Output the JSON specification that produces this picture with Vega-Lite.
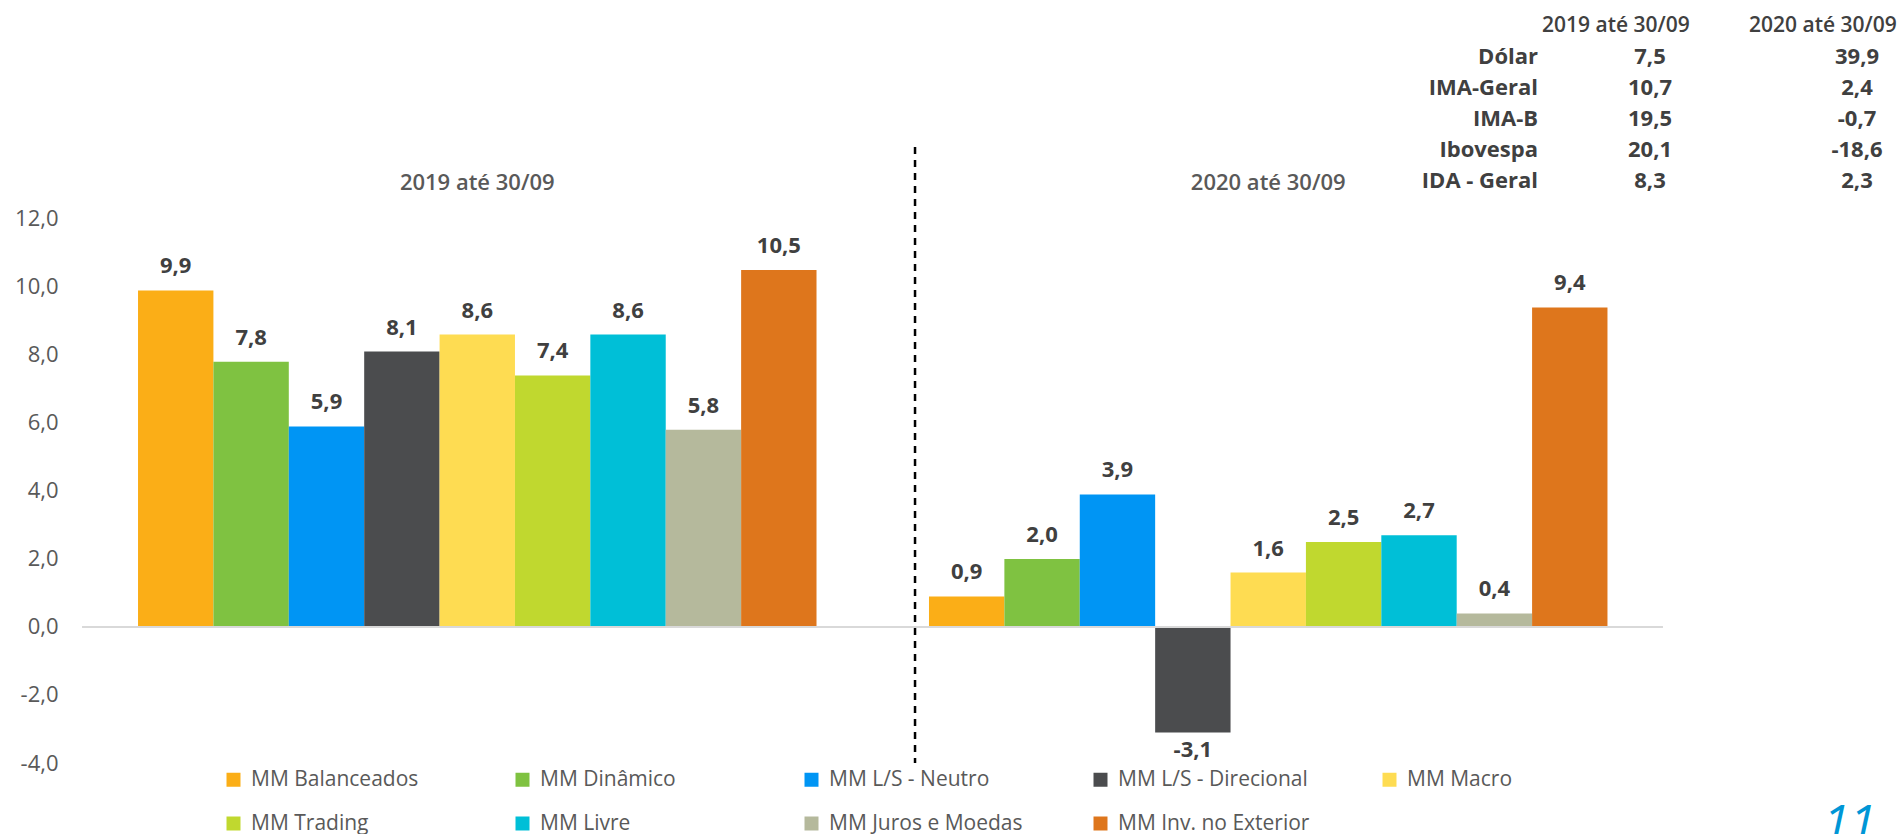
{
  "$schema": "https://vega.github.io/schema/vega-lite/v6.json",
  "width": 1817,
  "height": 763,
  "autosize": {"type": "none"},
  "padding": {"left": 82, "top": 0, "right": 0, "bottom": 71},
  "background": "white",
  "config": {
    "locale": {"number": {"decimal": ",", "thousands": ".", "grouping": [3], "currency": ["R$", ""], "minus": "-"}},
    "view": {"stroke": null},
    "font": "Open Sans",
    "text": {"font": "Open Sans"}
  },
  "datasets": {
    "fundos": [
      {"periodo": "2019 até 30/09", "serie": "MM Balanceados", "valor": 9.9},
      {"periodo": "2019 até 30/09", "serie": "MM Dinâmico", "valor": 7.8},
      {"periodo": "2019 até 30/09", "serie": "MM L/S - Neutro", "valor": 5.9},
      {"periodo": "2019 até 30/09", "serie": "MM L/S - Direcional", "valor": 8.1},
      {"periodo": "2019 até 30/09", "serie": "MM Macro", "valor": 8.6},
      {"periodo": "2019 até 30/09", "serie": "MM Trading", "valor": 7.4},
      {"periodo": "2019 até 30/09", "serie": "MM Livre", "valor": 8.6},
      {"periodo": "2019 até 30/09", "serie": "MM Juros e Moedas", "valor": 5.8},
      {"periodo": "2019 até 30/09", "serie": "MM Inv. no Exterior", "valor": 10.5},
      {"periodo": "2020 até 30/09", "serie": "MM Balanceados", "valor": 0.9},
      {"periodo": "2020 até 30/09", "serie": "MM Dinâmico", "valor": 2.0},
      {"periodo": "2020 até 30/09", "serie": "MM L/S - Neutro", "valor": 3.9},
      {"periodo": "2020 até 30/09", "serie": "MM L/S - Direcional", "valor": -3.1},
      {"periodo": "2020 até 30/09", "serie": "MM Macro", "valor": 1.6},
      {"periodo": "2020 até 30/09", "serie": "MM Trading", "valor": 2.5},
      {"periodo": "2020 até 30/09", "serie": "MM Livre", "valor": 2.7},
      {"periodo": "2020 até 30/09", "serie": "MM Juros e Moedas", "valor": 0.4},
      {"periodo": "2020 até 30/09", "serie": "MM Inv. no Exterior", "valor": 9.4}
    ],
    "grupos": [
      {"periodo": "2019 até 30/09"},
      {"periodo": "2020 até 30/09"}
    ],
    "indicadores": [
      {"indicador": "Dólar", "periodo": "2019 até 30/09", "valor": 7.5},
      {"indicador": "Dólar", "periodo": "2020 até 30/09", "valor": 39.9},
      {"indicador": "IMA-Geral", "periodo": "2019 até 30/09", "valor": 10.7},
      {"indicador": "IMA-Geral", "periodo": "2020 até 30/09", "valor": 2.4},
      {"indicador": "IMA-B", "periodo": "2019 até 30/09", "valor": 19.5},
      {"indicador": "IMA-B", "periodo": "2020 até 30/09", "valor": -0.7},
      {"indicador": "Ibovespa", "periodo": "2019 até 30/09", "valor": 20.1},
      {"indicador": "Ibovespa", "periodo": "2020 até 30/09", "valor": -18.6},
      {"indicador": "IDA - Geral", "periodo": "2019 até 30/09", "valor": 8.3},
      {"indicador": "IDA - Geral", "periodo": "2020 até 30/09", "valor": 2.3}
    ]
  },
  "layer": [
    {
      "layer": [
        {
          "data": {"name": "fundos"},
          "mark": {"type": "bar"},
          "encoding": {
            "x": {
              "field": "periodo", "type": "nominal",
              "scale": {"domain": ["2019 até 30/09", "2020 até 30/09"], "paddingInner": 0.1422, "paddingOuter": 0.2197, "align": 0.1612},
              "axis": null
            },
            "xOffset": {
              "field": "serie", "type": "nominal",
              "scale": {"domain": ["MM Balanceados", "MM Dinâmico", "MM L/S - Neutro", "MM L/S - Direcional", "MM Macro", "MM Trading", "MM Livre", "MM Juros e Moedas", "MM Inv. no Exterior"], "paddingInner": 0, "paddingOuter": 0}
            },
            "y": {
              "field": "valor", "type": "quantitative",
              "scale": {"domain": [-4, 18.44], "nice": false, "zero": false},
              "axis": {"values": [-4, -2, 0, 2, 4, 6, 8, 10, 12], "format": ".1f", "labelFontSize": 22, "labelColor": "#595959", "labelFont": "Open Sans", "domain": false, "ticks": false, "grid": false, "labelPadding": 24, "title": null}
            },
            "color": {
              "field": "serie", "type": "nominal",
              "scale": {
                "domain": ["MM Balanceados", "MM Dinâmico", "MM L/S - Neutro", "MM L/S - Direcional", "MM Macro", "MM Trading", "MM Livre", "MM Juros e Moedas", "MM Inv. no Exterior"],
                "range": ["#FBAE17", "#7FC241", "#0095F4", "#4B4C4E", "#FEDC52", "#C0D82F", "#00BFD7", "#B5B99C", "#DE761C"]
              },
              "legend": {"orient": "none", "legendX": 141, "legendY": 769, "direction": "horizontal", "columns": 5, "title": null, "symbolType": "square", "symbolSize": 196, "symbolStrokeWidth": 0, "symbolOpacity": 1, "labelFontSize": 21, "labelColor": "#595959", "labelFont": "Open Sans", "labelOffset": 7, "columnPadding": 67, "rowPadding": 22, "gridAlign": "all", "labelLimit": 400}
            }
          }
        },
        {
          "data": {"name": "fundos"},
          "transform": [{"filter": "datum.valor >= 0"}],
          "mark": {"type": "text", "dy": -24, "fontSize": 22, "fontWeight": "bold", "color": "#404040", "font": "Open Sans"},
          "encoding": {
            "x": {"field": "periodo", "type": "nominal"},
            "xOffset": {"field": "serie", "type": "nominal"},
            "y": {"field": "valor", "type": "quantitative"},
            "text": {"field": "valor", "type": "quantitative", "format": ".1f"}
          }
        },
        {
          "data": {"name": "fundos"},
          "transform": [{"filter": "datum.valor < 0"}],
          "mark": {"type": "text", "dy": 18, "fontSize": 22, "fontWeight": "bold", "color": "#404040", "font": "Open Sans"},
          "encoding": {
            "x": {"field": "periodo", "type": "nominal"},
            "xOffset": {"field": "serie", "type": "nominal"},
            "y": {"field": "valor", "type": "quantitative"},
            "text": {"field": "valor", "type": "quantitative", "format": ".1f"}
          }
        },
        {
          "data": {"values": [{"linha": "zero"}]},
          "mark": {"type": "rule", "color": "#D9D9D9", "strokeWidth": 2},
          "encoding": {
            "x": {"datum": "2019 até 30/09", "type": "nominal", "bandPosition": -0.0825},
            "x2": {"datum": "2020 até 30/09", "bandPosition": 1.0818},
            "y": {"datum": 0, "type": "quantitative"}
          }
        },
        {
          "data": {"values": [{"linha": "divisória"}]},
          "mark": {"type": "rule", "color": "#000000", "strokeWidth": 2.5, "strokeDash": [7, 6]},
          "encoding": {
            "x": {"datum": "2019 até 30/09", "type": "nominal", "bandPosition": 1.1452},
            "y": {"datum": 14.12, "type": "quantitative"},
            "y2": {"datum": -4}
          }
        },
        {
          "data": {"name": "grupos"},
          "mark": {"type": "text", "fontSize": 22, "fontWeight": 600, "color": "#595959", "font": "Open Sans"},
          "encoding": {
            "x": {"field": "periodo", "type": "nominal"},
            "y": {"datum": 13.06, "type": "quantitative"},
            "text": {"field": "periodo", "type": "nominal"}
          }
        },
        {
          "data": {"values": [{"pagina": "11"}]},
          "mark": {"type": "text", "fontSize": 48, "fontStyle": "italic", "color": "#0096D6", "font": "Open Sans", "baseline": "alphabetic", "align": "center"},
          "encoding": {
            "x": {"datum": "2020 até 30/09", "type": "nominal", "bandPosition": 1.357},
            "y": {"datum": -6.24, "type": "quantitative"},
            "text": {"field": "pagina", "type": "nominal"}
          }
        }
      ]
    },
    {
      "data": {"name": "indicadores"},
      "layer": [
        {
          "mark": {"type": "text", "fontSize": 22, "fontWeight": "bold", "color": "#404040", "font": "Open Sans", "align": "center"},
          "encoding": {
            "x": {
              "field": "periodo", "type": "nominal",
              "scale": {"type": "point", "domain": ["rótulo", "2019 até 30/09", "2020 até 30/09"], "padding": 0, "range": [1361, 1775]},
              "axis": null
            },
            "y": {
              "field": "indicador", "type": "nominal",
              "scale": {"type": "point", "domain": ["cabeçalho", "Dólar", "IMA-Geral", "IMA-B", "Ibovespa", "IDA - Geral"], "padding": 0, "range": [26, 181]},
              "axis": null
            },
            "text": {"field": "valor", "type": "quantitative", "format": ".1f"}
          }
        },
        {
          "transform": [{"filter": "datum.periodo == '2019 até 30/09'"}],
          "mark": {"type": "text", "fontSize": 22, "fontWeight": "bold", "color": "#404040", "font": "Open Sans", "align": "right", "dx": 95},
          "encoding": {
            "x": {"datum": "rótulo", "type": "nominal"},
            "y": {"field": "indicador", "type": "nominal"},
            "text": {"field": "indicador", "type": "nominal"}
          }
        },
        {
          "transform": [{"filter": "datum.indicador == 'Dólar'"}],
          "mark": {"type": "text", "fontSize": 21, "fontWeight": 600, "color": "#404040", "font": "Open Sans", "align": "left", "dx": -108},
          "encoding": {
            "x": {"field": "periodo", "type": "nominal"},
            "y": {"datum": "cabeçalho", "type": "nominal"},
            "text": {"field": "periodo", "type": "nominal"}
          }
        }
      ]
    }
  ],
  "resolve": {"scale": {"x": "independent", "y": "independent"}}
}
